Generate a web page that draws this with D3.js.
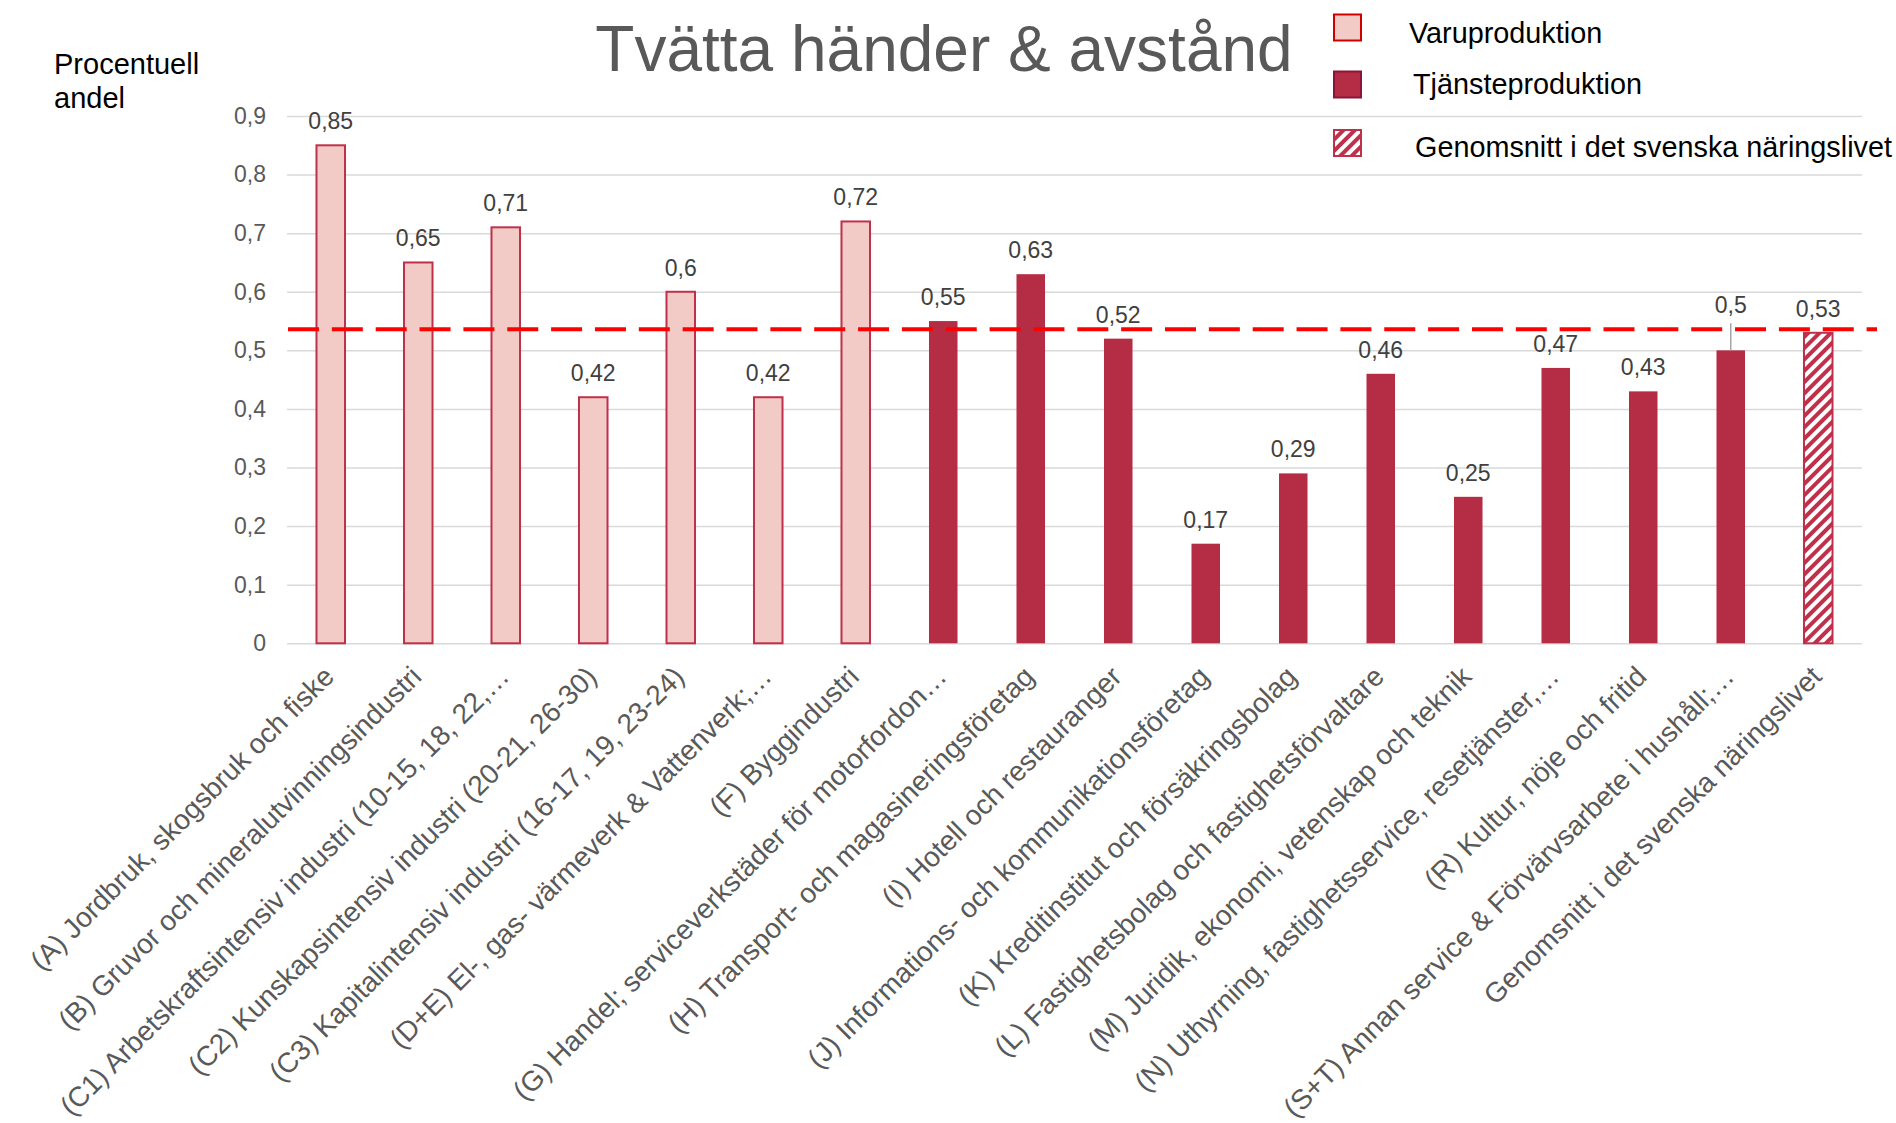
<!DOCTYPE html>
<html lang="sv">
<head>
<meta charset="UTF-8" />
<title>Tvätta händer & avstånd</title>
<script src="https://cdn.jsdelivr.net/npm/d3@7/dist/d3.min.js"></script>
<style>
  html, body { margin: 0; padding: 0; background: #fff; }
  svg { display: block; font-family: "Liberation Sans", Arial, sans-serif; }
</style>
</head>
<body>
<svg id="chart" width="1896" height="1123"></svg>
<script>
// data
const categories = [
  '(A) Jordbruk, skogsbruk och fiske',
  '(B) Gruvor och mineralutvinningsindustri',
  '(C1) Arbetskraftsintensiv industri (10-15, 18, 22,…',
  '(C2) Kunskapsintensiv industri (20-21, 26-30)',
  '(C3) Kapitalintensiv industri (16-17, 19, 23-24)',
  '(D+E) El-, gas- värmeverk & Vattenverk;…',
  '(F) Byggindustri',
  '(G) Handel; serviceverkstäder för motorfordon…',
  '(H) Transport- och magasineringsföretag',
  '(I) Hotell och restauranger',
  '(J) Informations- och kommunikationsföretag',
  '(K) Kreditinstitut och försäkringsbolag',
  '(L) Fastighetsbolag och fastighetsförvaltare',
  '(M) Juridik, ekonomi, vetenskap och teknik',
  '(N) Uthyrning, fastighetsservice, resetjänster,…',
  '(R) Kultur, nöje och fritid',
  '(S+T) Annan service & Förvärvsarbete i hushåll;…',
  'Genomsnitt i det svenska näringslivet'
];
const values = [0.85, 0.65, 0.71, 0.42, 0.6, 0.42, 0.72, 0.55, 0.63, 0.52,
  0.17, 0.29, 0.46, 0.25, 0.47, 0.43, 0.5, 0.53];
// 0 = varuproduktion, 1 = tjänsteproduktion, 2 = genomsnitt
const groups = [0, 0, 0, 0, 0, 0, 0, 1, 1, 1, 1, 1, 1, 1, 1, 1, 1, 2];
const legendLabels = ['Varuproduktion', 'Tjänsteproduktion', 'Genomsnitt i det svenska näringslivet'];
const yTicks = [0, 0.1, 0.2, 0.3, 0.4, 0.5, 0.6, 0.7, 0.8, 0.9];
const refLine = 0.536;

const svg = d3.select('#chart');
const plotL = 287, plotR = 1862, plotT = 116, plotB = 643.3;

const sv = d3.formatLocale({ decimal: ',', thousands: ' ', grouping: [3], currency: ['', ' kr'] });
const fmt = sv.format('~g');

const x = d3.scaleBand().domain(categories).range([plotL, plotR])
  .paddingInner(0.674).paddingOuter(0.337);
const y = d3.scaleLinear().domain([0, 0.9]).range([plotB, plotT]);

// hatch pattern
const defs = svg.append('defs');
const pat = defs.append('pattern')
  .attr('id', 'hatch')
  .attr('patternUnits', 'userSpaceOnUse')
  .attr('width', 8).attr('height', 8)
  .attr('patternTransform', 'rotate(45)');
pat.append('rect').attr('width', 8).attr('height', 8).attr('fill', '#fff');
pat.append('rect').attr('width', 4).attr('height', 8).attr('fill', '#c0304a');

const fills = ['#f2cbc7', '#b52d45', 'url(#hatch)'];
const strokes = ['#c0304a', '#b52d45', '#c0304a'];

// y axis + grid
const yAxis = d3.axisLeft(y).tickValues(yTicks).tickFormat(fmt)
  .tickSize(-(plotR - plotL)).tickPadding(21);
const gy = svg.append('g').attr('transform', `translate(${plotL},0)`).call(yAxis);
gy.select('.domain').remove();
gy.selectAll('.tick line').attr('stroke', '#d9d9d9').attr('stroke-width', 1.5);
gy.selectAll('.tick text').attr('fill', '#595959').attr('font-size', 23);

// x axis labels
const xAxis = d3.axisBottom(x).tickSize(0);
const gx = svg.append('g').attr('transform', `translate(0,${plotB})`).call(xAxis);
gx.select('.domain').remove();
gx.selectAll('.tick text')
  .attr('fill', '#595959').attr('font-size', 28)
  .attr('text-anchor', 'end')
  .attr('x', 0).attr('y', 0).attr('dy', 0)
  .attr('transform', 'translate(5,35) rotate(-45)');

// bars
const rows = categories.map((c, i) => ({ c, v: values[i], g: groups[i] }));
svg.append('g').selectAll('rect').data(rows).join('rect')
  .attr('x', d => x(d.c))
  .attr('y', d => y(d.v))
  .attr('width', x.bandwidth())
  .attr('height', d => y(0) - y(d.v))
  .attr('fill', d => fills[d.g])
  .attr('stroke', d => strokes[d.g])
  .attr('stroke-width', d => d.g === 1 ? 0 : 2);

// value labels
const lift = (d, i) => i === 16 ? 21 : 0;
const lab = svg.append('g');
lab.selectAll('text').data(rows).join('text')
  .attr('x', d => x(d.c) + x.bandwidth() / 2)
  .attr('y', (d, i) => y(d.v) - 16 - lift(d, i))
  .attr('text-anchor', 'middle')
  .attr('font-size', 23)
  .attr('fill', '#404040')
  .text(d => fmt(d.v));
// leader line for the lifted label
const st = rows[16];
lab.append('line')
  .attr('x1', x(st.c) + x.bandwidth() / 2).attr('x2', x(st.c) + x.bandwidth() / 2)
  .attr('y1', y(st.v) - 27).attr('y2', y(st.v))
  .attr('stroke', '#a6a6a6').attr('stroke-width', 1.5);

// reference line
svg.append('line')
  .attr('x1', plotL + 1).attr('x2', 1877)
  .attr('y1', y(refLine)).attr('y2', y(refLine))
  .attr('stroke', '#ff0000').attr('stroke-width', 4)
  .attr('stroke-dasharray', '31,12.85');

// title
svg.append('text')
  .attr('x', 944).attr('y', 71)
  .attr('text-anchor', 'middle')
  .attr('font-size', 64).attr('fill', '#595959')
  .text('Tvätta händer & avstånd');

// y axis title
svg.append('text').attr('x', 54).attr('y', 74).attr('font-size', 29).attr('fill', '#000').text('Procentuell');
svg.append('text').attr('x', 54).attr('y', 108).attr('font-size', 29).attr('fill', '#000').text('andel');

// legend
const legY = [14.5, 71.5, 130];
const legTextX = [1409, 1413, 1415];
const legTextY = [43, 94, 157];
const legStroke = ['#d00000', '#8b1538', '#c0304a'];
const leg = svg.append('g');
legendLabels.forEach((t, i) => {
  leg.append('rect')
    .attr('x', 1334).attr('y', legY[i])
    .attr('width', 27).attr('height', 26)
    .attr('fill', fills[i]).attr('stroke', legStroke[i]).attr('stroke-width', 2);
  leg.append('text')
    .attr('x', legTextX[i]).attr('y', legTextY[i])
    .attr('font-size', 28.8).attr('fill', '#000')
    .text(t);
});
</script>
</body>
</html>
